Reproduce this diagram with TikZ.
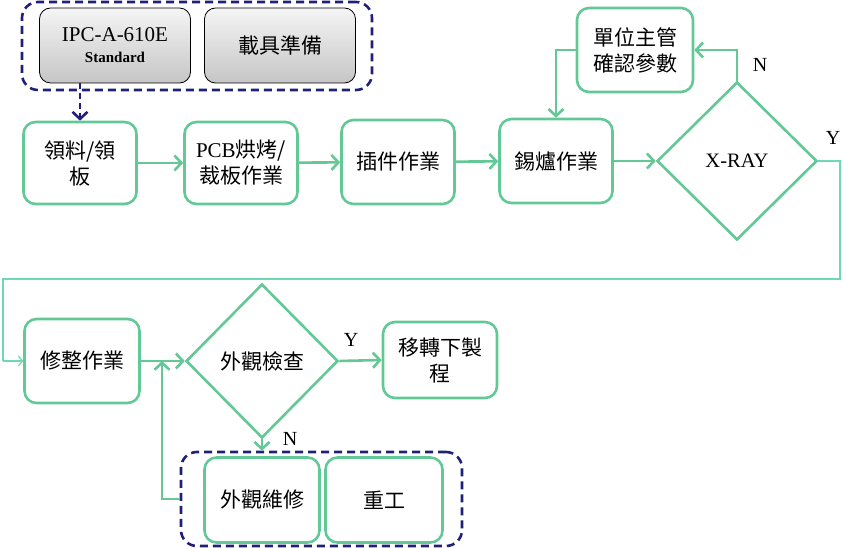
\documentclass[tikz,border=0pt]{standalone}
\usepackage{fontspec}
\setmainfont{Liberation Serif}
\newfontfamily\cjk{Noto Sans CJK TC}
\usetikzlibrary{shapes.geometric,arrows.meta}
\definecolor{flowgreen}{RGB}{98,200,150}
\definecolor{thinteal}{RGB}{110,215,180}
\definecolor{navy}{RGB}{32,32,120}
\begin{document}
\begin{tikzpicture}[
    x=1pt, y=-1pt,
    >={Straight Barb[length=7pt,width=15pt]},
    every node/.style={font=\fontsize{20}{24}\selectfont},
    box/.style={draw=flowgreen, line width=2.6pt, rounded corners=12pt,
        minimum width=113pt, minimum height=82pt, align=center,
        font=\cjk\fontsize{21}{26}\selectfont},
    decision/.style={draw=flowgreen, line width=2.6pt, diamond,
        inner sep=0pt, align=center},
    graybox/.style={draw=black, line width=0.8pt, rounded corners=11pt,
        top color=gray!8, bottom color=gray!45,
        minimum width=151pt, minimum height=75pt, align=center},
    group/.style={draw=navy, line width=2.6pt, dash pattern=on 8pt off 5pt,
        rounded corners=16pt},
    flow/.style={draw=flowgreen, line width=2.6pt, ->},
    thin/.style={draw=thinteal, line width=1.2pt}
]
\useasboundingbox (0,0) rectangle (854,548);

\node[group, minimum width=350pt, minimum height=88pt] (prep) at (197,46) {};
\node[graybox, font=\fontsize{21}{24}\selectfont] (ipc) at (115,45.5) {IPC-A-610E\\[-3pt]{\bfseries\fontsize{15}{17}\selectfont Standard}};
\node[graybox, font=\cjk\fontsize{21}{26}\selectfont] (zaiju) at (280,45.5) {載具準備};

\node[box] (lingliao) at (80,163) {領料/領\\板};
\node[box] (pcb) at (241,163) {{\rmfamily PCB}烘烤/\\裁板作業};
\node[box, minimum height=84pt] (chajian) at (398,162) {插件作業};
\node[box, minimum height=84pt] (xilu) at (556,161) {錫爐作業};
\node[decision, minimum width=160pt, minimum height=158pt, font=\fontsize{20.5}{24}\selectfont] (xray) at (737,161) {X-RAY};
\node[box, minimum width=116pt, minimum height=84pt] (zhuguan) at (635,50) {單位主管\\確認參數};

\node[box, minimum width=115pt, minimum height=84pt] (xiuzheng) at (82,361) {修整作業};
\node[decision, minimum width=152pt, minimum height=154pt, font=\cjk\fontsize{21}{26}\selectfont] (waiguan) at (262,361) {外觀檢查};
\node[box, minimum width=114pt, minimum height=76pt] (yizhuan) at (440,360) {移轉下製\\程};

\node[group, minimum width=281pt, minimum height=94pt] (repair) at (321.5,499) {};
\node[box, minimum width=115pt, minimum height=85pt] (weixiu) at (262,500) {外觀維修};
\node[box, minimum width=117pt, minimum height=85pt] (chonggong) at (384,500) {重工};

\coordinate (turn1) at (840,161);
\coordinate (turn2) at (840,279);
\coordinate (turn3) at (3,279);
\coordinate (turn4) at (3,361);
\coordinate (merge) at (162,361);

\draw[navy, line width=2.6pt, dash pattern=on 6pt off 4pt, ->] (ipc.south -| lingliao) -- (lingliao.north);

\draw[flow] (lingliao) -- (pcb);
\draw[flow] (pcb) -- (chajian);
\draw[flow] (chajian) -- (xilu);
\draw[flow] (xilu.east) -- (xray.west);
\draw[flow] (xray.north) |- (zhuguan.east);
\draw[flow] (zhuguan.west) -| (xilu.north);
\draw[thin] (xray.east) -- (turn1) -- (turn2) -- (turn3) -- (turn4);
\draw[thin, -{Straight Barb[length=4pt,width=10pt]}] (turn4) -- (xiuzheng.west);

\draw[flow] (xiuzheng.east) -- (waiguan.west);
\draw[flow] (waiguan.east) -- (yizhuan.west);
\draw[flow] (waiguan.south) -- (repair.north -| waiguan.south);
\draw[flow] (repair.west) -| (merge);

\node (nx) at (760,65) {N};
\node (yx) at (833,138) {Y};
\node (yw) at (351,340) {Y};
\node (nw) at (290,439) {N};
\end{tikzpicture}
\end{document}
